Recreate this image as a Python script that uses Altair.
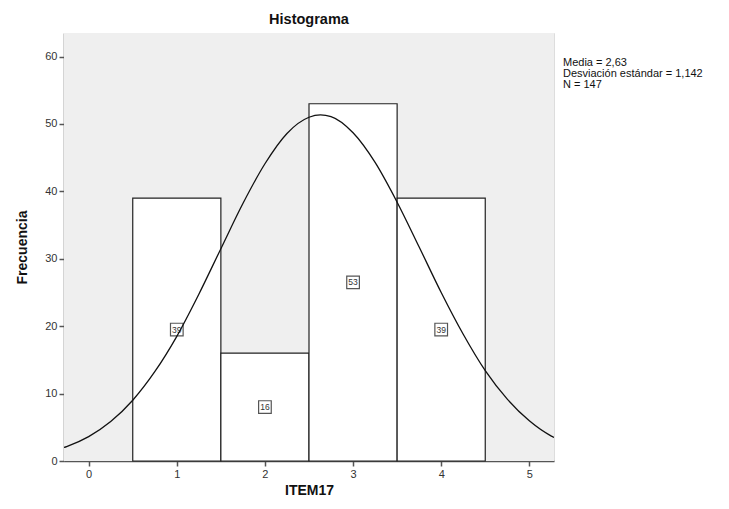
import altair as alt
import pandas as pd

# Histogram data
categories = [1, 2, 3, 4]
counts = [39, 16, 53, 39]

# Normal curve points
curve_x = [-0.28, -0.25, 0, 0.25, 0.5, 0.75, 1, 1.25, 1.5, 1.75, 2, 2.25, 2.5, 2.63,
           2.75, 3, 3.25, 3.5, 3.75, 4, 4.25, 4.5, 4.75, 5, 5.25, 5.28]
curve_y = [2.0, 2.14, 3.62, 5.85, 9.02, 13.25, 18.5, 24.75, 31.5, 38.2, 44.1, 48.6, 51.0, 51.35,
           51.1, 48.7, 44.3, 38.4, 31.75, 25.0, 18.8, 13.4, 9.17, 5.96, 3.70, 3.5]

stats_lines = ["Media = 2,63", "Desviación estándar = 1,142", "N = 147"]

FONT = "Liberation Sans"

bars_df = pd.DataFrame({
    "cat": categories,
    "count": counts,
    "x0": [c - 0.5 for c in categories],
    "x1": [c + 0.5 for c in categories],
    "mid": [c / 2 for c in counts],
})
curve_df = pd.DataFrame({"x": curve_x, "y": curve_y})

xscale = alt.Scale(domain=[-0.28, 5.28], nice=False, zero=False)
yscale = alt.Scale(domain=[0, 63.5], nice=False)

xaxis = alt.Axis(title="ITEM17", values=[0, 1, 2, 3, 4, 5], format="d", grid=False,
                 labelFontSize=11, labelColor="#333", labelFont=FONT, tickColor="#555",
                 domainColor="#555", tickSize=5, tickWidth=1.5, domainWidth=1.5, labelPadding=2,
                 titleFont=FONT, titleFontSize=14, titleFontWeight="bold", titleColor="#111",
                 titlePadding=4)
yaxis = alt.Axis(title="Frecuencia", values=[0, 10, 20, 30, 40, 50, 60], format="d", grid=False,
                 labelFontSize=11, labelColor="#333", labelFont=FONT, tickColor="#555",
                 domainColor="#555", tickSize=5, tickWidth=1.5, domainWidth=1.5, labelPadding=2,
                 titleFont=FONT, titleFontSize=14, titleFontWeight="bold", titleColor="#111",
                 titlePadding=15)

bg = alt.Chart(pd.DataFrame({"a": [0]})).mark_rect(fill="#efefef").encode(
    x=alt.value(0), x2=alt.value(490), y=alt.value(0), y2=alt.value(428)
)

bars = alt.Chart(bars_df).mark_rect(fill="white", stroke="#222", strokeWidth=1.2).encode(
    x=alt.X("x0:Q", scale=xscale, axis=xaxis),
    x2="x1:Q",
    y=alt.Y("count:Q", scale=yscale, axis=yaxis),
    y2=alt.datum(0),
)

boxes = alt.Chart(bars_df).mark_point(shape="square", size=160, filled=True, fill="white",
                                      stroke="#555", strokeWidth=1.2, opacity=1).encode(
    x=alt.X("cat:Q", scale=xscale),
    y=alt.Y("mid:Q", scale=yscale),
)

labels = alt.Chart(bars_df).mark_text(font=FONT, fontSize=8.5, color="#333").encode(
    x=alt.X("cat:Q", scale=xscale),
    y=alt.Y("mid:Q", scale=yscale),
    text="count:Q",
)

curve = alt.Chart(curve_df).mark_line(color="#111", strokeWidth=1.3, interpolate="monotone",
                                      clip=True).encode(
    x=alt.X("x:Q", scale=xscale),
    y=alt.Y("y:Q", scale=yscale),
)

stats_layers = []
for i, line in enumerate(stats_lines):
    stats_layers.append(
        alt.Chart(pd.DataFrame({"t": [line]})).mark_text(
            font=FONT, fontSize=11, color="#111", align="left", baseline="middle"
        ).encode(x=alt.value(499), y=alt.value(30 + 11 * i), text="t:N")
    )

chart = alt.layer(bg, bars, boxes, labels, curve, *stats_layers).properties(
    width=490,
    height=428,
    title=alt.Title("Histograma", font=FONT, fontSize=14.5, fontWeight="bold", color="#111",
                    anchor="middle", offset=6),
    autosize=alt.AutoSizeParams(type="none"),
    padding={"left": 56, "top": 25, "right": 167, "bottom": 40},
).configure_view(stroke="#444", strokeWidth=1.5).configure(background="white")

chart.save("out.html", embed_options={"renderer": "svg", "actions": False})
